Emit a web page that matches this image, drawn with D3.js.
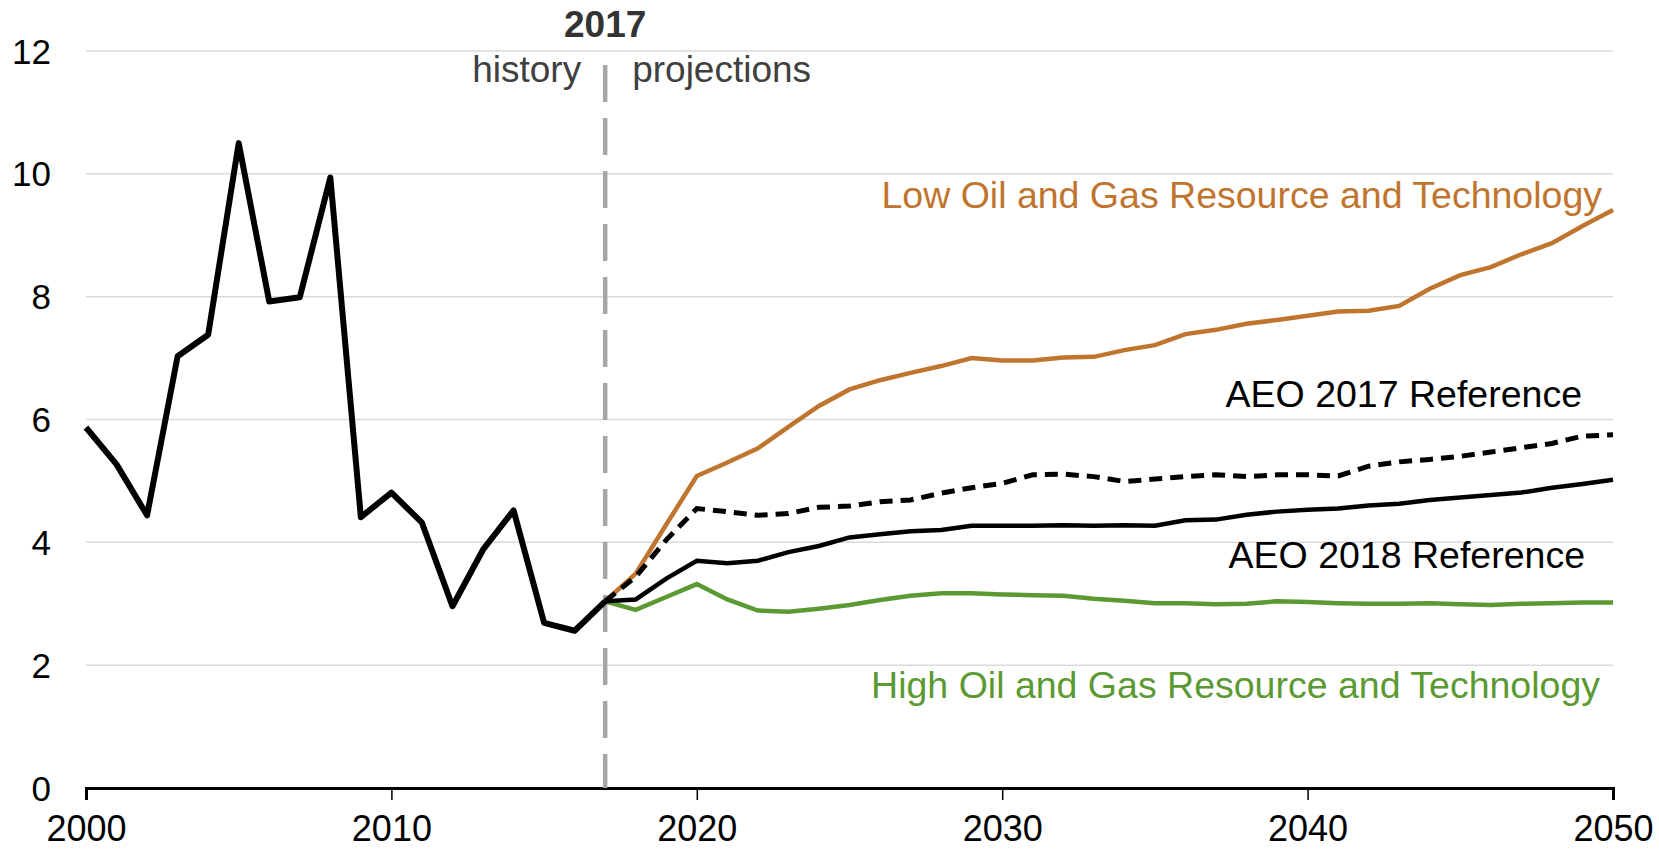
<!DOCTYPE html>
<html>
<head>
<meta charset="utf-8">
<script src="https://cdn.jsdelivr.net/npm/d3@7"></script>
<style>
  body { margin: 0; background: #fff; }
  text { font-family: "Liberation Sans", Arial, sans-serif; }
</style>
</head>
<body>
<div id="chart"></div>
<script>
// chart data
var historyYears = d3.range(2000, 2018);
var historyValues = [5.87, 5.27, 4.44, 7.03, 7.38, 10.50, 7.92, 7.99, 9.94, 4.41,
                     4.81, 4.32, 2.96, 3.88, 4.52, 2.69, 2.56, 3.04];

var projYears = d3.range(2017, 2051);
var lowOilValues = [3.04, 3.49, 4.29, 5.08, 5.30, 5.53, 5.88, 6.22, 6.49, 6.64,
                    6.76, 6.87, 7.00, 6.96, 6.96, 7.01, 7.02, 7.13, 7.21, 7.39,
                    7.46, 7.56, 7.62, 7.69, 7.76, 7.77, 7.85, 8.13, 8.35, 8.48,
                    8.69, 8.87, 9.15, 9.41];
var aeo2017Values = [3.04, 3.44, 4.04, 4.55, 4.50, 4.44, 4.47, 4.57, 4.59, 4.66,
                     4.69, 4.80, 4.89, 4.96, 5.10, 5.11, 5.07, 4.99, 5.03, 5.07,
                     5.10, 5.07, 5.10, 5.10, 5.08, 5.24, 5.31, 5.35, 5.40, 5.47,
                     5.54, 5.61, 5.73, 5.75];
var aeo2018Values = [3.04, 3.07, 3.41, 3.70, 3.66, 3.70, 3.84, 3.94, 4.08, 4.13,
                     4.18, 4.20, 4.27, 4.27, 4.27, 4.28, 4.27, 4.28, 4.27, 4.36,
                     4.37, 4.45, 4.50, 4.53, 4.55, 4.60, 4.63, 4.69, 4.73, 4.77,
                     4.81, 4.89, 4.95, 5.02];
var highOilValues = [3.04, 2.90, 3.11, 3.32, 3.07, 2.89, 2.87, 2.92, 2.98, 3.06,
                     3.13, 3.17, 3.17, 3.15, 3.14, 3.13, 3.08, 3.05, 3.01, 3.01,
                     2.99, 3.00, 3.04, 3.03, 3.01, 3.00, 3.00, 3.01, 2.99, 2.98,
                     3.00, 3.01, 3.02, 3.02];

var yTicks = [0, 2, 4, 6, 8, 10, 12];
var xTicks = [2000, 2010, 2020, 2030, 2040, 2050];
var dividerYear = 2017;

// dimensions
var margin = {top: 51, right: 46, bottom: 61, left: 86},
    width = 1659 - margin.left - margin.right,
    height = 849 - margin.top - margin.bottom;

var svg = d3.select("#chart")
  .append("svg")
    .attr("width", 1659)
    .attr("height", 849)
  .append("g")
    .attr("transform", "translate(" + margin.left + "," + margin.top + ")");

var x = d3.scaleLinear().domain([2000, 2050]).range([0, width]);
var y = d3.scaleLinear().domain([0, 12]).range([height, 0]);

// gridlines
svg.selectAll(".grid")
  .data(yTicks.filter(function(d) { return d > 0; }))
  .enter()
  .append("line")
    .attr("x1", 0)
    .attr("x2", width)
    .attr("y1", function(d) { return y(d); })
    .attr("y2", function(d) { return y(d); })
    .attr("stroke", "#d9d9d9")
    .attr("stroke-width", 1.5);

// y labels
svg.selectAll(".ylab")
  .data(yTicks)
  .enter()
  .append("text")
    .attr("x", -35)
    .attr("y", function(d) { return y(d); })
    .attr("dy", "0.36em")
    .attr("text-anchor", "end")
    .attr("font-size", 35)
    .attr("fill", "#000")
    .text(function(d) { return d; });

// x axis
var xAxis = svg.append("g")
  .attr("transform", "translate(0," + height + ")")
  .call(d3.axisBottom(x).tickValues(xTicks).tickFormat(d3.format("d")).tickSize(12).tickPadding(15));
xAxis.select(".domain").attr("stroke", "#000").attr("stroke-width", 3);
xAxis.selectAll(".tick line").attr("stroke", "#000").attr("stroke-width", 1.5);
xAxis.selectAll("text")
  .attr("font-size", 36)
  .attr("fill", "#000")
  .attr("font-family", "Liberation Sans, Arial, sans-serif");

// 2017 divider
svg.append("line")
  .attr("x1", x(dividerYear))
  .attr("x2", x(dividerYear))
  .attr("y1", 14)
  .attr("y2", height)
  .attr("stroke", "#a6a6a6")
  .attr("stroke-width", 4.5)
  .attr("stroke-dasharray", "37,16");

svg.append("text")
  .attr("x", x(dividerYear))
  .attr("y", -14)
  .attr("text-anchor", "middle")
  .attr("font-size", 37)
  .attr("font-weight", "bold")
  .attr("fill", "#333")
  .text("2017");
svg.append("text")
  .attr("x", x(dividerYear) - 24)
  .attr("y", 31)
  .attr("text-anchor", "end")
  .attr("font-size", 37)
  .attr("fill", "#404040")
  .text("history");
svg.append("text")
  .attr("x", x(dividerYear) + 27)
  .attr("y", 31)
  .attr("text-anchor", "start")
  .attr("font-size", 37)
  .attr("fill", "#404040")
  .text("projections");

// lines
var line = d3.line()
  .x(function(d) { return x(d[0]); })
  .y(function(d) { return y(d[1]); });

function pairs(years, vals) {
  return years.map(function(yr, i) { return [yr, vals[i]]; });
}

svg.append("path")
  .attr("d", line(pairs(projYears, lowOilValues)))
  .attr("fill", "none").attr("stroke", "#c0752f").attr("stroke-width", 4.5);
svg.append("path")
  .attr("d", line(pairs(projYears, highOilValues)))
  .attr("fill", "none").attr("stroke", "#5b9a33").attr("stroke-width", 4.5);
svg.append("path")
  .attr("d", line(pairs(projYears, aeo2017Values)))
  .attr("fill", "none").attr("stroke", "#000").attr("stroke-width", 5)
  .attr("stroke-dasharray", "13,8");
svg.append("path")
  .attr("d", line(pairs(projYears, aeo2018Values)))
  .attr("fill", "none").attr("stroke", "#000").attr("stroke-width", 4.5);
svg.append("path")
  .attr("d", line(pairs(historyYears, historyValues)))
  .attr("fill", "none").attr("stroke", "#000").attr("stroke-width", 6)
  .attr("stroke-linejoin", "round");

// series labels
var labelSize = 37.5;
svg.append("text")
  .attr("x", 1602 - margin.left).attr("y", 208 - margin.top)
  .attr("text-anchor", "end").attr("font-size", labelSize).attr("fill", "#c0752f")
  .text("Low Oil and Gas Resource and Technology");
svg.append("text")
  .attr("x", 1582 - margin.left).attr("y", 407 - margin.top)
  .attr("text-anchor", "end").attr("font-size", labelSize).attr("fill", "#000")
  .text("AEO 2017 Reference");
svg.append("text")
  .attr("x", 1585 - margin.left).attr("y", 568 - margin.top)
  .attr("text-anchor", "end").attr("font-size", labelSize).attr("fill", "#000")
  .text("AEO 2018 Reference");
svg.append("text")
  .attr("x", 1600 - margin.left).attr("y", 698 - margin.top)
  .attr("text-anchor", "end").attr("font-size", labelSize).attr("fill", "#5b9a33")
  .text("High Oil and Gas Resource and Technology");
</script>
</body>
</html>
